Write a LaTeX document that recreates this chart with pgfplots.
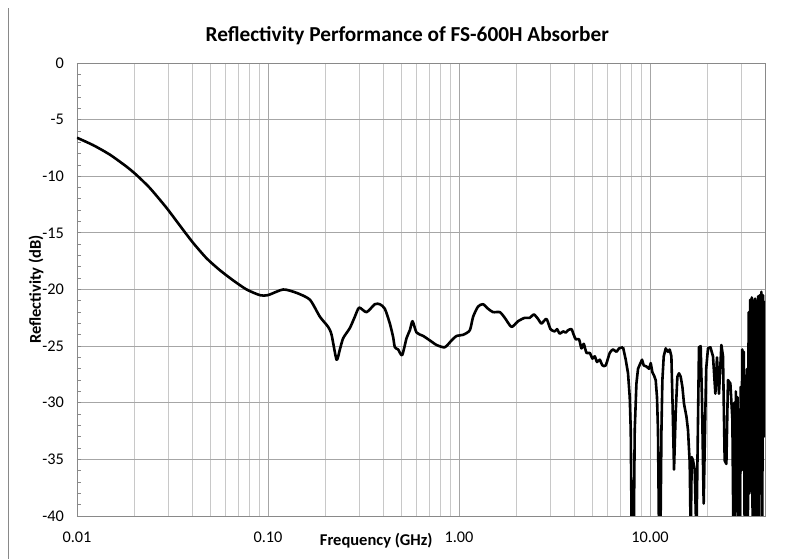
\documentclass[border=0pt]{standalone}
\usepackage{fontspec}
\setmainfont{Carlito}
\usepackage{pgfplots}
\pgfplotsset{compat=1.18}
\definecolor{axisgray}{HTML}{898989}
\definecolor{majgrid}{HTML}{A6A6A6}
\definecolor{mingrid}{HTML}{C8C8C8}
\begin{document}
\begin{tikzpicture}[x=1pt,y=1pt]
\useasboundingbox (0,0) rectangle (798,559);
\draw[axisgray, line width=0.8pt] (8,0) -- (8,551);
\begin{axis}[
  at={(77pt,43pt)}, anchor=south west,
  scale only axis, width=688pt, height=453pt,
  xmode=log, xmin=0.01, xmax=40, ymin=-40, ymax=0,
  xtick={0.01,0.1,1,10}, xticklabels={0.01,0.10,1.00,10.00},
  minor xtick={0.02,0.03,0.04,0.05,0.06,0.07,0.08,0.09,0.2,0.3,0.4,0.5,0.6,0.7,0.8,0.9,2,3,4,5,6,7,8,9,20,30},
  ytick={-40,-35,-30,-25,-20,-15,-10,-5,0},
  yticklabels={-40,-35,-30,-25,-20,-15,-10,-5,0},
  minor y tick num=4,
  ytick pos=left,
  xmajorgrids, xminorgrids, ymajorgrids,
  major grid style={majgrid, line width=0.8pt},
  minor grid style={mingrid, line width=0.8pt},
  axis line style={axisgray, line width=0.8pt},
  tick align=inside,
  major tick length=4pt, minor tick length=4pt,
  tick style={axisgray, line width=0.8pt},
  xtick style={draw=none},
  tick label style={font=\fontsize{16.3}{19}\selectfont, inner sep=0pt},
  xticklabel style={anchor=center, yshift=-21pt},
  yticklabel style={anchor=east, xshift=-13pt},
  title={Reflectivity Performance of FS-600H Absorber},
  title style={at={(axis description cs:0.48,1.0464)}, anchor=center, font=\bfseries\fontsize{21.3}{25}\selectfont},
  xlabel={Frequency (GHz)},
  xlabel style={at={(axis description cs:0.435,-0.0552)}, anchor=center, font=\bfseries\fontsize{16.5}{19}\selectfont},
  ylabel={Reflectivity (dB)},
  ylabel style={at={(axis description cs:-0.0596,0.5)}, anchor=center, font=\bfseries\fontsize{16.5}{19}\selectfont},
]
\addplot[black, line width=2.6pt, smooth, tension=0.4, line join=round] coordinates {
(0.0100,-6.6) (0.01217,-7.26) (0.01489,-8.1) (0.01820,-9.16) (0.02053,-9.9)
(0.02410,-11.05) (0.02946,-12.8) (0.03600,-14.75) (0.04062,-15.9) (0.04772,-17.25)
(0.05601,-18.3) (0.06575,-19.2) (0.07727,-20.0) (0.09070,-20.5) (0.0999,-20.5)
(0.1201,-20.0) (0.1412,-20.3) (0.1657,-20.9) (0.1869,-22.4) (0.2065,-23.3)
(0.2152,-24.0) (0.2286,-26.2) (0.2378,-25.3) (0.2475,-24.3) (0.2683,-23.4)
(0.2850,-22.4) (0.3001,-21.6) (0.3281,-22.0) (0.3626,-21.3) (0.3851,-21.3)
(0.4090,-21.7) (0.4344,-23.0) (0.4520,-24.2) (0.4614,-25.1) (0.4802,-25.3)
(0.5039,-25.8) (0.5313,-24.3) (0.5529,-23.6) (0.5711,-22.8) (0.5993,-23.8)
(0.6492,-24.1) (0.7181,-24.6) (0.7627,-24.9) (0.8426,-25.1) (0.9137,-24.5)
(0.9705,-24.1) (1.051,-24.0) (1.139,-23.6) (1.186,-22.4) (1.259,-21.5)
(1.337,-21.3) (1.420,-21.7) (1.508,-22.0) (1.636,-22.0) (1.737,-22.5)
(1.883,-23.3) (2.039,-22.8) (2.210,-22.5) (2.347,-22.5) (2.464,-22.2)
(2.594,-22.6) (2.703,-23.0) (2.871,-22.6) (3.013,-23.5) (3.172,-23.7)
(3.261,-23.5) (3.369,-23.9) (3.506,-23.7) (3.622,-23.8) (3.723,-23.6)
(3.879,-23.5) (3.988,-24.0) (4.086,-24.4) (4.252,-24.4) (4.377,-25.2)
(4.500,-24.8) (4.649,-25.6) (4.837,-25.6) (4.997,-26.1) (5.137,-25.9)
(5.281,-26.4) (5.457,-26.2) (5.636,-26.7) (5.865,-26.7) (6.155,-25.6)
(6.406,-25.3) (6.674,-25.5) (6.886,-25.2) (7.226,-25.1)
};
\addplot[black, line width=2.6pt, line join=round] coordinates {
(7.226,-25.1) (7.465,-26.2) (7.674,-27.4) (7.833,-29.5) (7.928,-32.4)
(8.024,-42) (8.220,-42) (8.318,-32.4) (8.490,-28.3) (8.656,-27.0)
(8.912,-26.5) (9.086,-26.2) (9.270,-26.7) (9.577,-26.8) (9.881,-27.0)
(10.09,-26.5) (10.29,-27.3) (10.50,-27.6) (10.71,-28.0) (10.88,-29.5)
(11.01,-32.4) (11.15,-42) (11.34,-42) (11.48,-32.4) (11.61,-28)
(11.80,-25.9) (12.08,-25.2) (12.42,-25.5) (12.68,-25.3) (12.94,-25.9)
(13.10,-29.5) (13.36,-35.9) (13.63,-30.9) (13.91,-27.7) (14.18,-27.4)
(14.48,-27.7) (14.78,-28.6) (15.07,-30.1) (15.51,-31.2) (15.81,-32.4)
(16.14,-35.3) (16.34,-42) (16.54,-34.8) (16.80,-35.1) (17.14,-35.9)
(17.50,-42) (18.05,-25.1) (18.42,-25.0) (18.72,-29.8) (19.10,-38.9)
(19.50,-30.6) (19.69,-27) (20.12,-25.2) (20.71,-25.1) (21.37,-25.9)
(21.99,-29.2) (22.42,-26.0) (22.97,-29.2) (23.64,-24.9) (24.11,-25.9)
(24.60,-35.1) (25.11,-35.4) (25.60,-28.0) (26.35,-28.3) (27.00,-31.5)
(27.34,-42) (27.61,-30) (27.88,-42) (28.15,-29) (28.42,-38)
(28.70,-29.5) (28.98,-42) (29.26,-31) (29.54,-42) (29.83,-28.6)
(30.12,-36) (30.41,-25.3) (30.70,-30) (31.00,-25.5) (31.30,-42)
(31.60,-30) (31.91,-42) (32.22,-27) (32.53,-42) (32.85,-22)
(33.16,-38) (33.49,-20.9) (33.81,-35) (34.14,-20.7) (34.47,-42)
(34.80,-21) (35.14,-36) (35.48,-20.8) (35.82,-42) (36.17,-21)
(36.52,-40) (36.87,-20.6) (37.23,-42) (37.59,-20.5) (37.95,-38)
(38.32,-20.2) (38.69,-42) (39.07,-20.5) (39.44,-33) (39.83,-21)
};
\end{axis}
\end{tikzpicture}
\end{document}
